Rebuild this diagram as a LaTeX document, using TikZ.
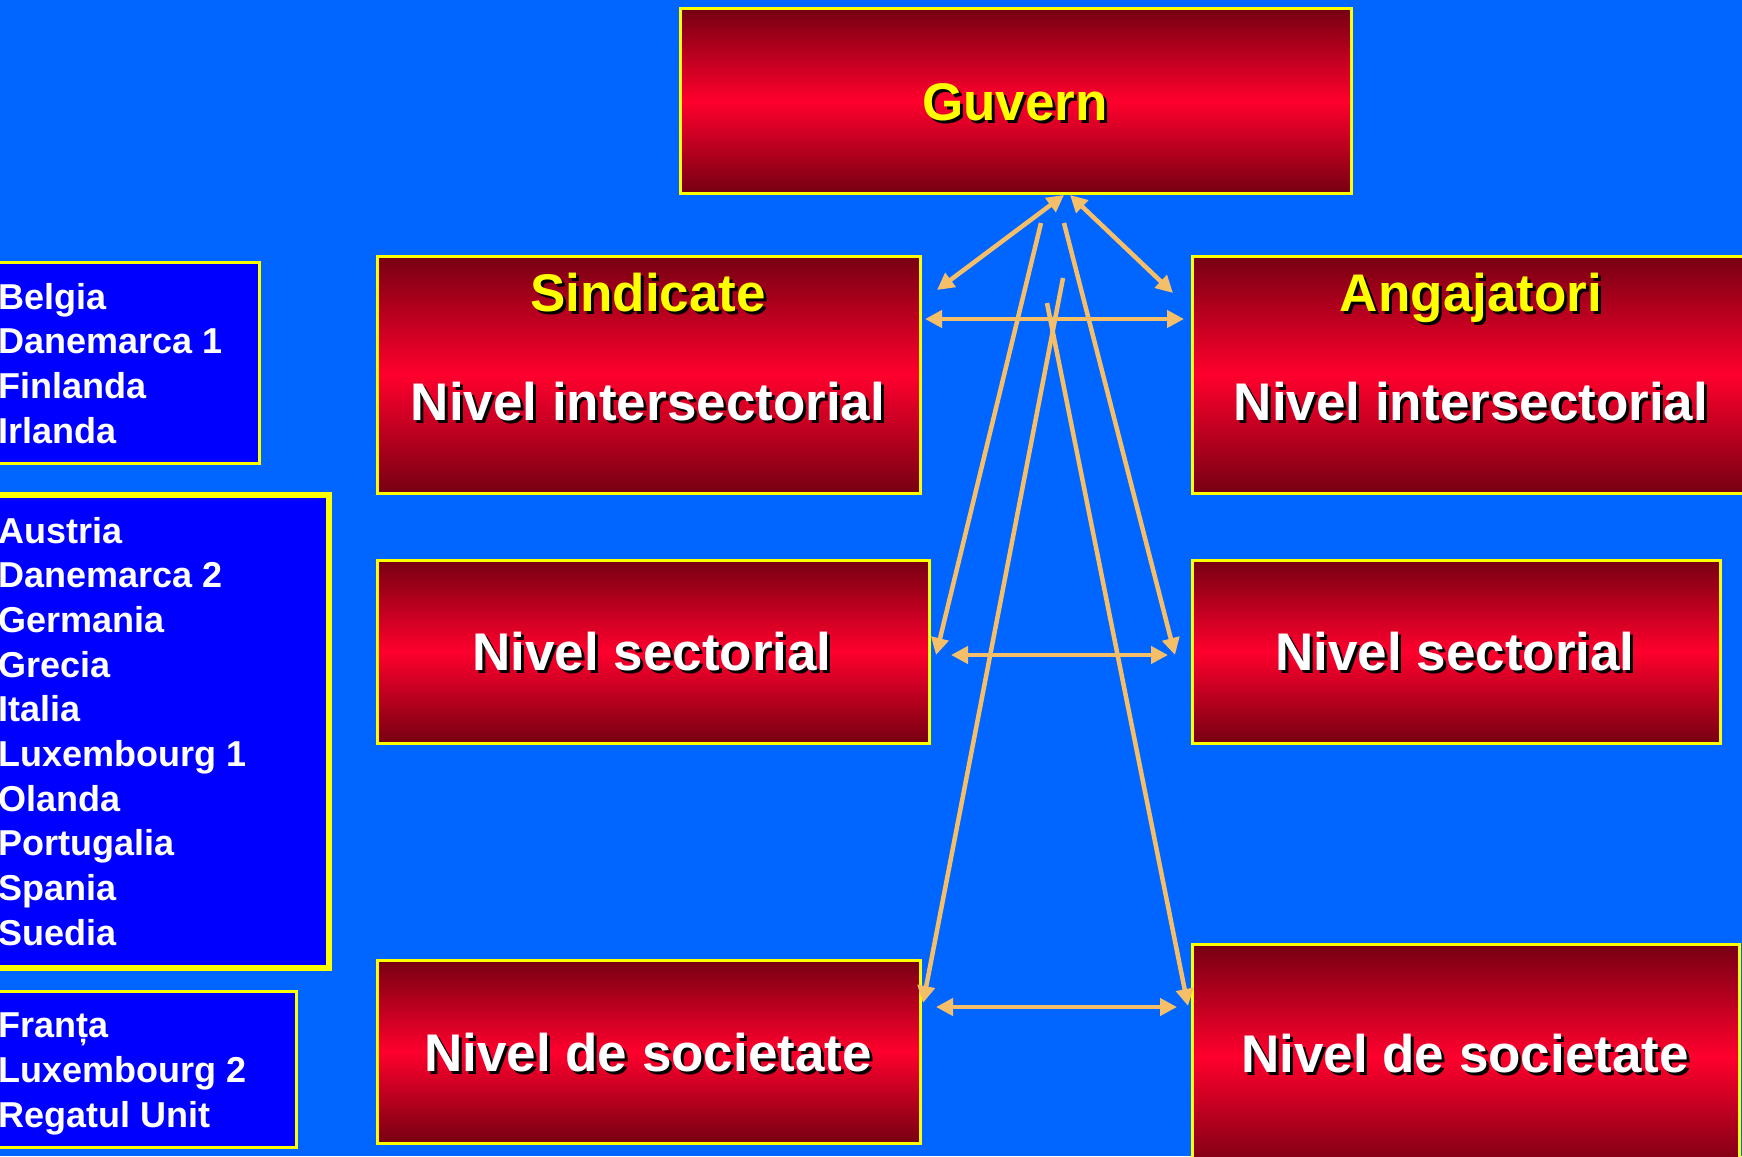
\documentclass[tikz,border=0pt]{standalone}
\usepackage{fontspec}
\setmainfont{Liberation Sans}
\usetikzlibrary{arrows.meta}
\definecolor{bg}{RGB}{0,102,255}
\definecolor{listblue}{RGB}{0,0,255}
\definecolor{yel}{RGB}{255,255,0}
\definecolor{dred}{RGB}{118,0,18}
\definecolor{bred}{RGB}{255,0,45}
\definecolor{arr}{RGB}{245,190,105}
\tikzset{
  redbox/.style={draw=yel, line width=3pt, inner sep=0pt, outer sep=0pt,
    top color=dred, bottom color=dred, middle color=bred},
  bluebox/.style={draw=yel, fill=listblue, line width=3pt, inner sep=0pt, outer sep=0pt},
  big/.style={font=\fontsize{53}{60}\selectfont\bfseries, anchor=base, inner sep=0pt},
  shadowtxt/.style={big, text=black},
  listtxt/.style={font=\fontsize{36}{44}\selectfont\bfseries, text=white, anchor=base west, inner sep=0pt},
  conn/.style={draw=arr, line width=4.5pt, -{Triangle[length=17pt,width=17pt]}},
  dconn/.style={draw=arr, line width=4.5pt, {Triangle[length=17pt,width=17pt]}-{Triangle[length=17pt,width=17pt]}}
}
\begin{document}
\begin{tikzpicture}[x=1pt,y=-1pt]
\useasboundingbox (0,0) rectangle (1742,1156);
\clip (0,0) rectangle (1742,1156);
\fill[bg] (0,0) rectangle (1742,1156);

% red boxes
\node[redbox, minimum width=671pt, minimum height=184pt] (guvern) at (1015.5,101) {};
\node[redbox, minimum width=543pt, minimum height=237pt] (sind) at (648.5,374.5) {};
\node[redbox, minimum width=568pt, minimum height=237pt] (anga) at (1476,374.5) {};
\node[redbox, minimum width=552pt, minimum height=183pt] (secL) at (653,651.5) {};
\node[redbox, minimum width=528pt, minimum height=183pt] (secR) at (1456,651.5) {};
\node[redbox, minimum width=543pt, minimum height=183pt] (socL) at (648.5,1051.5) {};
\node[redbox, minimum width=547pt, minimum height=226pt] (socR) at (1465.5,1057) {};

% blue list boxes
\node[bluebox, minimum width=269pt, minimum height=201pt] (lb1) at (124.5,362.5) {};
\node[bluebox, line width=6pt, minimum width=339pt, minimum height=473pt] (lb2) at (159.5,731.5) {};
\node[bluebox, minimum width=306pt, minimum height=156pt] (lb3) at (143,1069) {};

% big texts with shadows
\node[shadowtxt] (guvern-s) at (1018,123) {Guvern};
\node[big, text=yel] (guvern-t) at (1015,120) {Guvern};
\node[shadowtxt] (sind-s) at (651,314) {Sindicate};
\node[big, text=yel] (sind-t) at (648,311) {Sindicate};
\node[shadowtxt] (anga-s) at (1474,314) {Angajatori};
\node[big, text=yel] (anga-t) at (1471,311) {Angajatori};
\node[shadowtxt] (niL-s) at (651,423) {Nivel intersectorial};
\node[big, text=white] (niL-t) at (648,420) {Nivel intersectorial};
\node[shadowtxt] (niR-s) at (1474,423) {Nivel intersectorial};
\node[big, text=white] (niR-t) at (1471,420) {Nivel intersectorial};
\node[shadowtxt] (nsL-s) at (655,673) {Nivel sectorial};
\node[big, text=white] (nsL-t) at (652,670) {Nivel sectorial};
\node[shadowtxt] (nsR-s) at (1458,673) {Nivel sectorial};
\node[big, text=white] (nsR-t) at (1455,670) {Nivel sectorial};
\node[shadowtxt] (ndL-s) at (651,1074) {Nivel de societate};
\node[big, text=white] (ndL-t) at (648,1071) {Nivel de societate};
\node[shadowtxt] (ndR-s) at (1468,1075) {Nivel de societate};
\node[big, text=white] (ndR-t) at (1465,1072) {Nivel de societate};

% list texts
\foreach \t [count=\i] in {Belgia, Danemarca 1, Finlanda, Irlanda}
  \node[listtxt] (la\i) at (-2,{309+44.7*(\i-1)}) {\t};
\foreach \t [count=\i] in {Austria, Danemarca 2, Germania, Grecia, Italia, Luxembourg 1, Olanda, Portugalia, Spania, Suedia}
  \node[listtxt] (lbb\i) at (-2,{543+44.7*(\i-1)}) {\t};
\foreach \t [count=\i] in {Franța, Luxembourg 2, Regatul Unit}
  \node[listtxt] (lc\i) at (-2,{1037+45*(\i-1)}) {\t};

% connector end points
\coordinate (apL) at (1064,195);
\coordinate (apR) at (1070,195);
\coordinate (sinT) at (937,290);
\coordinate (angT) at (1173,293);
\coordinate (h1L) at (925,319);
\coordinate (h1R) at (1184,319);
\coordinate (aS) at (1041,223);
\coordinate (aE) at (936,655);
\coordinate (bS) at (1064,223);
\coordinate (bE) at (1175,655);
\coordinate (cS) at (1063,278);
\coordinate (cE) at (923,1003);
\coordinate (dS) at (1047,303);
\coordinate (dE) at (1188,1006);
\coordinate (h2L) at (951,655);
\coordinate (h2R) at (1168,655);
\coordinate (h3L) at (936,1007);
\coordinate (h3R) at (1177,1007);

% connectors
\draw[dconn] (sinT) -- (apL);
\draw[dconn] (apR) -- (angT);
\draw[dconn] (h1L) -- (h1R);
\draw[conn] (aS) -- (aE);
\draw[conn] (bS) -- (bE);
\draw[conn] (cS) -- (cE);
\draw[conn] (dS) -- (dE);
\draw[dconn] (h2L) -- (h2R);
\draw[dconn] (h3L) -- (h3R);
\end{tikzpicture}
\end{document}
